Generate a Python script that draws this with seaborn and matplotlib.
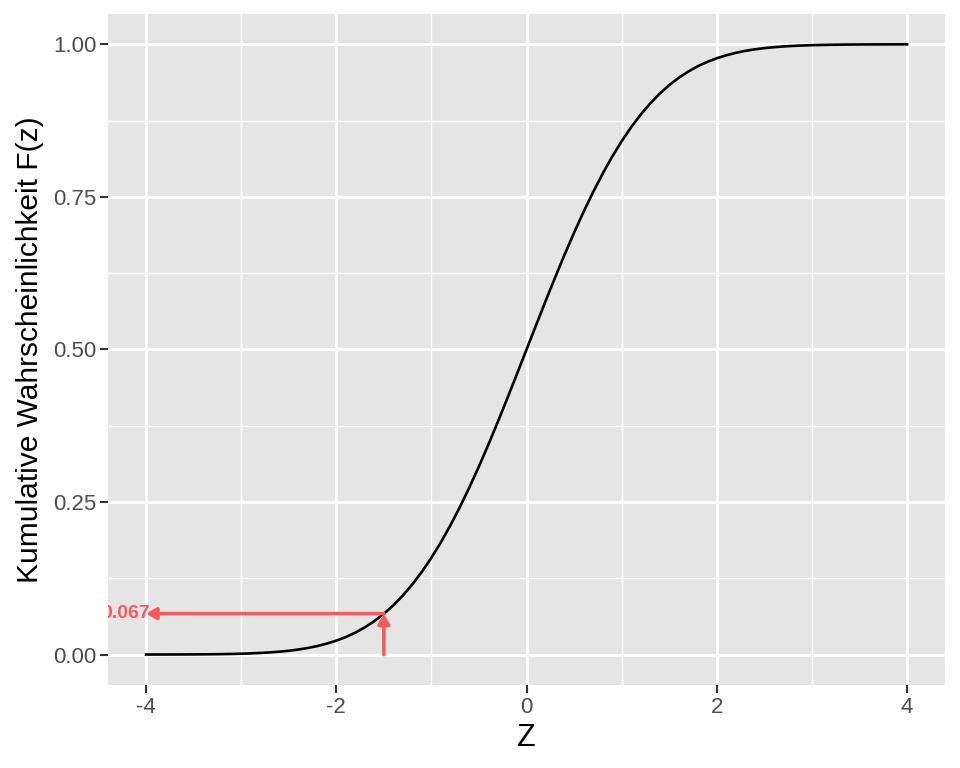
import numpy as np
import pandas as pd
import matplotlib
matplotlib.use("Agg")
import matplotlib.pyplot as plt
import seaborn as sns

# Curve values (cumulative standard normal)
z_values = [-4.0, -3.9, -3.8, -3.7, -3.6, -3.5, -3.4, -3.3, -3.2, -3.1,
            -3.0, -2.9, -2.8, -2.7, -2.6, -2.5, -2.4, -2.3, -2.2, -2.1,
            -2.0, -1.9, -1.8, -1.7, -1.6, -1.5, -1.4, -1.3, -1.2, -1.1,
            -1.0, -0.9, -0.8, -0.7, -0.6, -0.5, -0.4, -0.3, -0.2, -0.1,
            0.0, 0.1, 0.2, 0.3, 0.4, 0.5, 0.6, 0.7, 0.8, 0.9,
            1.0, 1.1, 1.2, 1.3, 1.4, 1.5, 1.6, 1.7, 1.8, 1.9,
            2.0, 2.1, 2.2, 2.3, 2.4, 2.5, 2.6, 2.7, 2.8, 2.9,
            3.0, 3.1, 3.2, 3.3, 3.4, 3.5, 3.6, 3.7, 3.8, 3.9, 4.0]
f_values = [0.00003, 0.00005, 0.00007, 0.00011, 0.00016, 0.00023, 0.00034, 0.00048, 0.00069, 0.00097,
            0.00135, 0.0019, 0.0026, 0.0035, 0.0047, 0.0062, 0.0082, 0.0107, 0.0139, 0.0179,
            0.0228, 0.0287, 0.0359, 0.0446, 0.0548, 0.0668, 0.0808, 0.0968, 0.1151, 0.1357,
            0.1587, 0.1841, 0.2119, 0.2420, 0.2743, 0.3085, 0.3446, 0.3821, 0.4207, 0.4602,
            0.5, 0.5398, 0.5793, 0.6179, 0.6554, 0.6915, 0.7257, 0.7580, 0.7881, 0.8159,
            0.8413, 0.8643, 0.8849, 0.9032, 0.9192, 0.9332, 0.9452, 0.9554, 0.9641, 0.9713,
            0.9772, 0.9821, 0.9861, 0.9893, 0.9918, 0.9938, 0.9953, 0.9965, 0.9974, 0.9981,
            0.99865, 0.9990, 0.99931, 0.99952, 0.99966, 0.99977, 0.99984, 0.99989, 0.99993, 0.99995, 0.99997]

z_mark = -1.5
f_mark = 0.067
label_text = "0.067"

x_ticks = [-4, -2, 0, 2, 4]
x_tick_labels = ["-4", "-2", "0", "2", "4"]
y_ticks = [0.0, 0.25, 0.5, 0.75, 1.0]
y_tick_labels = ["0.00", "0.25", "0.50", "0.75", "1.00"]

df = pd.DataFrame({"z": z_values, "F": f_values})

plt.rcParams['font.family'] = ['Liberation Sans', 'DejaVu Sans']
fig = plt.figure(figsize=(9.6, 7.68), dpi=100)
ax = fig.add_axes([0.1125, 0.108, 0.872, 0.874])
ax.set_facecolor("#E5E5E5")
for s in ax.spines.values():
    s.set_visible(False)

ax.set_xlim(-4.4, 4.4)
ax.set_ylim(-0.05, 1.05)

# grid
for xm in [-3, -1, 1, 3]:
    ax.axvline(xm, color="white", lw=1.0, zorder=0)
for ym in [0.125, 0.375, 0.625, 0.875]:
    ax.axhline(ym, color="white", lw=1.0, zorder=0)
for xv in x_ticks:
    ax.axvline(xv, color="white", lw=2.0, zorder=0)
for yv in y_ticks:
    ax.axhline(yv, color="white", lw=2.0, zorder=0)

sns.lineplot(data=df, x="z", y="F", ax=ax, color="black", lw=1.9, zorder=3)

red = "#F25C5C"
astyle = "-|>,head_length=0.6,head_width=0.35"
ax.annotate("", xy=(z_mark, f_mark), xytext=(z_mark, 0.0),
            arrowprops=dict(arrowstyle=astyle, color=red, lw=2.6, mutation_scale=10,
                            shrinkA=0, shrinkB=0), zorder=4)
ax.annotate("", xy=(-4.0, f_mark), xytext=(z_mark, f_mark),
            arrowprops=dict(arrowstyle=astyle, color=red, lw=2.6, mutation_scale=10,
                            shrinkA=0, shrinkB=0), zorder=4)
ax.text(-3.96, f_mark, label_text, color=red, fontsize=14, fontweight="bold",
        ha="right", va="center", zorder=5, clip_on=True)

ax.set_xticks(x_ticks)
ax.set_xticklabels(x_tick_labels)
ax.set_yticks(y_ticks)
ax.set_yticklabels(y_tick_labels)
ax.tick_params(axis="both", colors="#333333", length=5.5, width=1.5, labelsize=16,
               labelcolor="#4D4D4D", pad=3)
ax.set_xlabel("Z", fontsize=22, color="black", labelpad=4)
ax.set_ylabel("Kumulative Wahrscheinlichkeit F(z)", fontsize=21.5, color="black", labelpad=6)
ax.grid(False)

fig.savefig("out.png", dpi=100)
